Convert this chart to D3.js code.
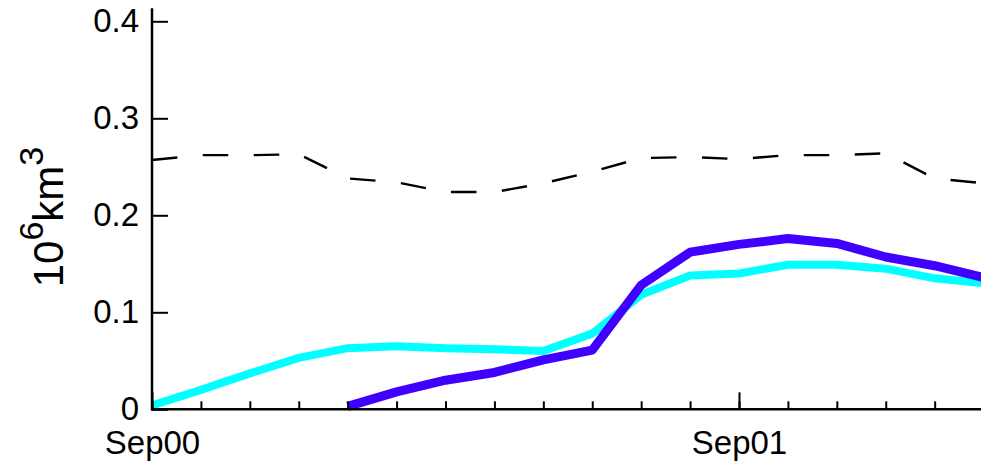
<!DOCTYPE html>
<html>
<head>
<meta charset="utf-8">
<script src="https://cdn.jsdelivr.net/npm/d3@7"></script>
<style>
  html, body { margin: 0; padding: 0; background: #fff; overflow: hidden; }
  svg { display: block; }
  text { font-family: "Liberation Sans", Arial, Helvetica, sans-serif; fill: #000; }
</style>
</head>
<body>
<script>
// ---- data ----
const months = ["Sep00","Oct00","Nov00","Dec00","Jan01","Feb01","Mar01","Apr01","May01",
                "Jun01","Jul01","Aug01","Sep01","Oct01","Nov01","Dec01","Jan02","Feb02"];
const xTickLabels = ["Sep00", "Sep01"];
const cyanSeries = [0.004,0.020,0.037,0.053,0.063,0.065,0.063,0.062,0.060,
                    0.078,0.118,0.138,0.140,0.149,0.149,0.145,0.135,0.130];
const blueSeries = [null,null,null,null,0.003,0.018,0.030,0.038,0.051,
                    0.061,0.128,0.162,0.170,0.176,0.171,0.157,0.148,0.136];
const dashedSeries = [0.257,0.262,0.262,0.263,0.238,0.234,0.224,0.224,0.233,
                      0.245,0.259,0.260,0.258,0.262,0.262,0.264,0.238,0.233];
const yTicks = [0, 0.1, 0.2, 0.3, 0.4];
const yLabelBase = "10", yLabelSup1 = "6", yLabelUnit = "km", yLabelSup2 = "3";

// ---- layout ----
const W = 981, H = 466;
const svg = d3.select("body").append("svg").attr("width", W).attr("height", H);

const x = d3.scaleLinear().domain([0, 12]).range([152, 739]);
const y = d3.scaleLinear().domain([0, 0.4]).range([409.3, 21.3]);
const yTop = 0.4135;

const plot = svg.append("g");

svg.append("defs").append("clipPath").attr("id", "clip")
  .append("rect").attr("x", 152).attr("y", 0).attr("width", W - 152).attr("height", 412);

const line = d3.line()
  .defined(d => d != null)
  .x((d, i) => x(i))
  .y(d => y(d));

const lines = plot.append("g").attr("clip-path", "url(#clip)");

lines.append("path").datum(dashedSeries)
  .attr("d", line).attr("fill", "none")
  .attr("stroke", "#000").attr("stroke-width", 2.4)
  .attr("stroke-dasharray", "25.5,25.5");

lines.append("path").datum(cyanSeries)
  .attr("d", line).attr("fill", "none")
  .attr("stroke", "#00ffff").attr("stroke-width", 8)
  .attr("stroke-linejoin", "round");

lines.append("path").datum(blueSeries)
  .attr("d", line).attr("fill", "none")
  .attr("stroke", "#3f00ff").attr("stroke-width", 9)
  .attr("stroke-linejoin", "round");

// ---- axes ----
const fontSize = 33;

const xMinor = d3.axisBottom(x).tickValues(d3.range(months.length)).tickSize(-8).tickFormat("");
const gxMinor = svg.append("g").attr("transform", `translate(0,${y(0)})`).call(xMinor);
const xMajor = d3.axisBottom(x).tickValues([0, 12]).tickSize(-17).tickPadding(21)
  .tickFormat(d => months[d]);
const gxMajor = svg.append("g").attr("transform", `translate(0,${y(0)})`).call(xMajor);

[gxMinor, gxMajor].forEach(g => {
  g.select(".domain").remove();
  g.selectAll(".tick line").attr("stroke", "#000").attr("stroke-width", 2);
  g.selectAll("text").attr("font-size", fontSize).attr("font-family", "Liberation Sans, Arial, sans-serif");
});
svg.append("line").attr("x1", 151).attr("x2", W + 5)
  .attr("y1", y(0)).attr("y2", y(0)).attr("stroke", "#000").attr("stroke-width", 2.5);

const yAxis = d3.axisLeft(y).tickValues(yTicks).tickSize(-16).tickPadding(13)
  .tickFormat(d => d === 0 ? "0" : d3.format(".1f")(d));
const gy = svg.append("g").attr("transform", `translate(${x(0)},0)`).call(yAxis);
gy.select(".domain").remove();
gy.selectAll(".tick line").attr("stroke", "#000").attr("stroke-width", 2);
gy.selectAll("text").attr("font-size", fontSize).attr("font-family", "Liberation Sans, Arial, sans-serif");
svg.append("line").attr("x1", x(0)).attr("x2", x(0))
  .attr("y1", y(yTop)).attr("y2", y(0) + 1.2).attr("stroke", "#000").attr("stroke-width", 2.5);

// y label
const yl = svg.append("text")
  .attr("transform", "translate(63,217) rotate(-90)")
  .attr("text-anchor", "middle")
  .attr("font-size", 42);
yl.append("tspan").text(yLabelBase);
yl.append("tspan").attr("font-size", 34).attr("dy", -20).text(yLabelSup1);
yl.append("tspan").attr("dy", 20).text(yLabelUnit);
yl.append("tspan").attr("font-size", 34).attr("dy", -20).text(yLabelSup2);
</script>
</body>
</html>
